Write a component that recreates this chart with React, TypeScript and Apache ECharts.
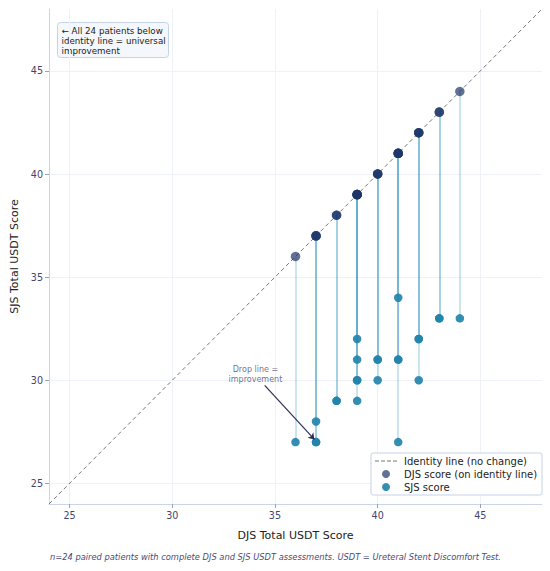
import React, { useEffect, useRef } from "react";
import * as echarts from "echarts";

const djsScores = [36, 37, 37, 37, 38, 38, 39, 39, 39, 39, 39, 40, 40, 40, 41, 41, 41, 41, 42, 42, 42, 43, 43, 44];
const sjsScores = [27, 28, 27, 27, 29, 29, 32, 31, 30, 29, 30, 31, 30, 31, 34, 31, 27, 31, 32, 30, 32, 33, 33, 33];
const axisRange = [24, 48];
const xTickValues = [25, 30, 35, 40, 45];
const yTickValues = [25, 30, 35, 40, 45];
const arrowFrom = [34.5, 29.75];
const arrowTo = [36.92, 27.13];
const arrowLabelAt = [34.05, 30.3];

const FONT = "DejaVu Sans";

export default function App() {
  const ref = useRef<HTMLDivElement>(null);
  useEffect(() => {
    document.body.style.margin = "0";
    if (!ref.current) return;
    const chart = echarts.init(ref.current, null, { renderer: "svg" });
    const identity = axisRange.map((v) => [v, v]);
    const drops = djsScores.map((d, i) => ({ coords: [[d, d], [d, sjsScores[i]]] }));
    const djsPts = djsScores.map((d) => [d, d]);
    const sjsPts = djsScores.map((d, i) => [d, sjsScores[i]]);
    const axisCommon = (name: string, ticks: number[], isY: boolean) => ({
      type: "value",
      min: axisRange[0],
      max: axisRange[1],
      name,
      nameLocation: "middle",
      nameGap: isY ? 28 : 26,
      nameTextStyle: { fontFamily: FONT, fontSize: 11, color: "#222" },
      axisLine: { show: true, lineStyle: { color: "#c9d6e8", width: 1 } },
      axisTick: { show: true, length: 4, customValues: ticks, lineStyle: { color: "#9aa3b5" } },
      axisLabel: {
        customValues: ticks,
        margin: 6,
        fontFamily: FONT,
        fontSize: 9.6,
        color: "#44446a",
      },
      splitLine: { show: true, lineStyle: { color: "#eef2f7", width: 1 } },
    });
    chart.setOption({
      animation: false,
      textStyle: { fontFamily: FONT },
      grid: { left: 49, right: 8, top: 9, bottom: 67, containLabel: false },
      xAxis: axisCommon("DJS Total USDT Score", xTickValues, false),
      yAxis: axisCommon("SJS Total USDT Score", yTickValues, true),
      legend: {
        orient: "vertical",
        left: 371,
        top: 453,
        padding: [3, 5, 3, 4],
        itemWidth: 22,
        itemHeight: 8,
        itemGap: 3,
        backgroundColor: "#ffffff",
        borderColor: "#c5d3e8",
        borderWidth: 1,
        borderRadius: 2,
        textStyle: { fontFamily: FONT, fontSize: 10, color: "#222", padding: [0, 0, 0, 2] },
        data: [
          {
            name: "Identity line (no change)",
            icon: "path://M0,0h4v1.2h-4zM6,0h4v1.2h-4zM12,0h4v1.2h-4zM18,0h4v1.2h-4z",
          },
          { name: "DJS score (on identity line)", icon: "circle" },
          { name: "SJS score", icon: "circle" },
        ],
      },
      graphic: [
        {
          type: "group",
          left: 57,
          top: 22,
          children: [
            {
              type: "rect",
              shape: { x: 0, y: 0, width: 111, height: 35, r: 3 },
              style: { fill: "#f4f7fc", stroke: "#c5d3e8", lineWidth: 1 },
            },
            {
              type: "text",
              x: 4,
              y: 3,
              style: {
                text: "← All 24 patients below\nidentity line = universal\nimprovement",
                fontFamily: FONT,
                fontSize: 8.7,
                lineHeight: 10,
                fill: "#222",
              },
            },
          ],
        },
        {
          type: "text",
          left: 50,
          top: 553,
          style: {
            text: "n=24 paired patients with complete DJS and SJS USDT assessments. USDT = Ureteral Stent Discomfort Test.",
            fontFamily: FONT,
            fontSize: 8.3,
            fontStyle: "italic",
            fill: "#4a4a78",
          },
        },
      ],
      series: [
        {
          name: "Identity line (no change)",
          type: "line",
          data: identity,
          symbol: "none",
          z: 1,
          lineStyle: { color: "#777777", width: 1, type: [4, 3] },
          itemStyle: { color: "#777777" },
          silent: true,
        },
        {
          name: "drops",
          type: "lines",
          coordinateSystem: "cartesian2d",
          data: drops,
          z: 2,
          lineStyle: { color: "#3a96bf", width: 1.5, opacity: 0.35 },
          silent: true,
        },
        {
          name: "DJS score (on identity line)",
          type: "scatter",
          data: djsPts,
          symbolSize: 9.5,
          z: 4,
          itemStyle: { color: "#1c3468", opacity: 0.7 },
        },
        {
          name: "SJS score",
          type: "scatter",
          data: sjsPts,
          symbolSize: 8.5,
          z: 3,
          itemStyle: { color: "#2384ab", opacity: 0.92 },
          markLine: {
            silent: true,
            symbol: ["none", "arrow"],
            symbolSize: 6,
            label: { show: false },
            lineStyle: { color: "#2d2d5a", width: 1.2, type: "solid" },
            data: [[{ coord: arrowFrom }, { coord: arrowTo }]],
          },
        },
        {
          name: "annotation",
          type: "scatter",
          data: [arrowLabelAt],
          symbolSize: 0,
          silent: true,
          label: {
            show: true,
            position: "inside",
            formatter: "Drop line =\nimprovement",
            fontFamily: FONT,
            fontSize: 8,
            lineHeight: 10,
            color: "#4a4a78",
            align: "center",
          },
        },
      ],
    });
    return () => chart.dispose();
  }, []);
  return <div ref={ref} style={{ width: 550, height: 571 }} />;
}
